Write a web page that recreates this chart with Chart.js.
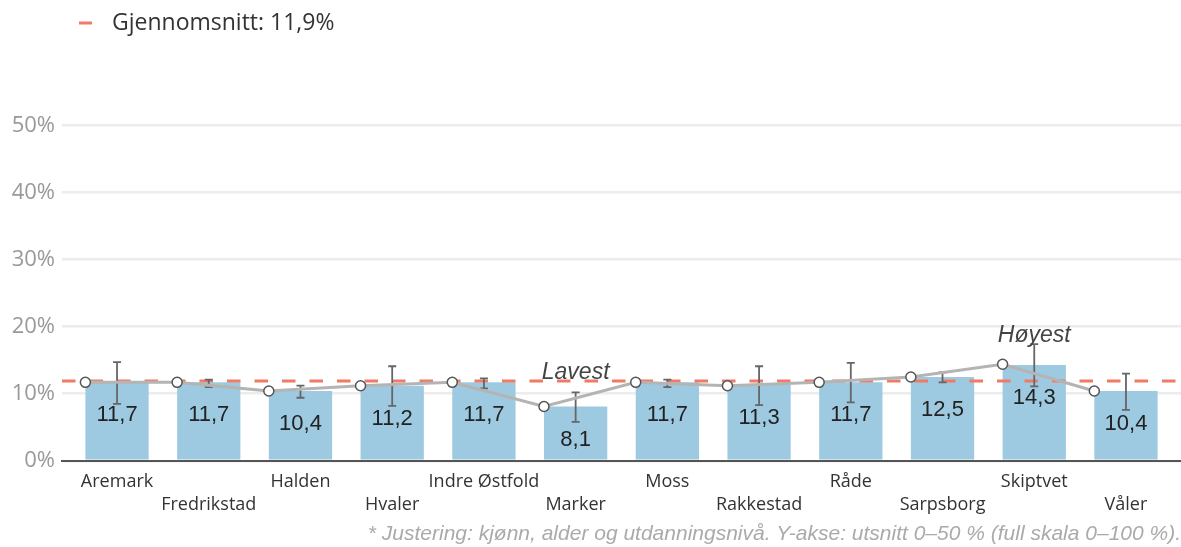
<!DOCTYPE html>
<html>
<head>
<meta charset="utf-8">
<script src="https://cdn.jsdelivr.net/npm/chart.js@4"></script>
<style>
  html, body { margin: 0; padding: 0; background: #fff; }
  #wrap { width: 1181px; height: 547px; }
</style>
</head>
<body>
<div id="wrap"><canvas id="chart"></canvas></div>
<script>
var labels = ["Aremark", "Fredrikstad", "Halden", "Hvaler", "Indre Østfold", "Marker",
  "Moss", "Rakkestad", "Råde", "Sarpsborg", "Skiptvet", "Våler"];
var adjusted = [11.7, 11.7, 10.4, 11.2, 11.7, 8.1, 11.7, 11.3, 11.7, 12.5, 14.3, 10.4];
var unadjusted = [11.7, 11.7, 10.4, 11.2, 11.7, 8.1, 11.7, 11.2, 11.7, 12.5, 14.4, 10.4];
var ciLow = [8.5, 11.0, 9.4, 8.2, 10.8, 5.8, 11.0, 8.3, 8.7, 11.7, 11.1, 7.6];
var ciHigh = [14.7, 12.1, 11.2, 14.1, 12.3, 10.2, 12.1, 14.1, 14.6, 13.2, 17.4, 13.0];
var average = 11.9;
var yTicks = [0, 10, 20, 30, 40, 50];
var legendText = "Gjennomsnitt: 11,9%";
var footnote = "* Justering: kjønn, alder og utdanningsnivå. Y-akse: utsnitt 0–50 % (full skala 0–100 %).";

var BAR_PCT = 0.69;
var AVG_COLOR = "#f07a64";
var fmt = function (v) { return v.toFixed(1).replace(".", ","); };

// avg line + error bars, drawn right after the bars
var overlayPlugin = {
  id: "overlay",
  afterDatasetDraw: function (chart, args) {
    if (args.index !== 0) return;
    var ctx = chart.ctx, x = chart.scales.x, y = chart.scales.y, area = chart.chartArea;
    ctx.save();
    ctx.strokeStyle = AVG_COLOR;
    ctx.lineWidth = 3;
    ctx.setLineDash([13.5, 14]);
    var ay = y.getPixelForValue(average);
    ctx.beginPath();
    ctx.moveTo(area.left, ay);
    ctx.lineTo(area.right, ay);
    ctx.stroke();
    ctx.setLineDash([]);

    ctx.strokeStyle = "#666";
    ctx.lineWidth = 1.8;
    for (var i = 0; i < labels.length; i++) {
      var px = x.getPixelForValue(i);
      var t = y.getPixelForValue(ciHigh[i]);
      var b = y.getPixelForValue(ciLow[i]);
      ctx.beginPath();
      ctx.moveTo(px, t); ctx.lineTo(px, b);
      ctx.moveTo(px - 4, t); ctx.lineTo(px + 4, t);
      ctx.moveTo(px - 4, b); ctx.lineTo(px + 4, b);
      ctx.stroke();
    }
    ctx.restore();
  },
  afterDatasetsDraw: function (chart) {
    var ctx = chart.ctx, x = chart.scales.x, y = chart.scales.y;
    ctx.save();
    // value labels inside bars
    ctx.fillStyle = "#222";
    ctx.font = "22px 'Liberation Sans', Arial, sans-serif";
    ctx.textAlign = "center";
    ctx.textBaseline = "middle";
    for (var i = 0; i < labels.length; i++) {
      ctx.fillText(fmt(adjusted[i]), x.getPixelForValue(i), y.getPixelForValue(adjusted[i]) + 33);
    }
    // lowest / highest notes
    var lo = adjusted.indexOf(Math.min.apply(null, adjusted));
    var hi = adjusted.indexOf(Math.max.apply(null, adjusted));
    ctx.fillStyle = "#444";
    ctx.font = "italic 23px 'Liberation Sans', Arial, sans-serif";
    ctx.textBaseline = "alphabetic";
    [[lo, "Lavest"], [hi, "Høyest"]].forEach(function (n) {
      var top = Math.max(ciHigh[n[0]], average);
      ctx.fillText(n[1], x.getPixelForValue(n[0]), y.getPixelForValue(top) - 2);
    });
    // legend
    ctx.strokeStyle = AVG_COLOR;
    ctx.lineWidth = 3;
    ctx.beginPath();
    ctx.moveTo(79, 23); ctx.lineTo(92, 23);
    ctx.stroke();
    ctx.fillStyle = "#333";
    ctx.font = "23px 'Open Sans', sans-serif";
    ctx.textAlign = "left";
    ctx.textBaseline = "middle";
    ctx.fillText(legendText, 112, 23);
    ctx.restore();
  }
};

var ctx = document.getElementById("chart").getContext("2d");

var myChart = new Chart(ctx, {
  data: {
    datasets: [
      {
        type: "bar",
        label: "Justert",
        data: adjusted.map(function (v, i) { return { x: i, y: v }; }),
        backgroundColor: "#9ecae1",
        barPercentage: BAR_PCT,
        categoryPercentage: 1,
        order: 2
      },
      {
        type: "line",
        label: "Ujustert",
        data: unadjusted.map(function (v, i) { return { x: i - BAR_PCT / 2, y: v }; }),
        borderColor: "#b4b4b4",
        borderWidth: 3,
        pointRadius: 5,
        pointBorderWidth: 1.5,
        pointBorderColor: "#555",
        pointBackgroundColor: "#fff",
        tension: 0,
        order: 1
      }
    ]
  },
  options: {
    responsive: true,
    maintainAspectRatio: false,
    animation: false,
    layout: { autoPadding: false, padding: { top: 125.5, right: 0, left: 0, bottom: 0 } },
    plugins: {
      legend: { display: false },
      tooltip: { enabled: false },
      title: {
        display: true,
        text: footnote,
        position: "bottom",
        align: "end",
        color: "#aaa",
        font: { family: "'Liberation Sans', Arial, sans-serif", size: 21, style: "italic", weight: "normal" },
        padding: { top: 0, bottom: 0 }
      }
    },
    scales: {
      x: {
        type: "linear",
        offset: false,
        min: -0.6,
        max: 11.6,
        grid: { display: false, drawTicks: false, offset: false },
        border: { display: true, color: "#555", width: 2 },
        afterBuildTicks: function (s) {
          s.ticks = labels.map(function (_, i) { return { value: i }; });
        },
        afterFit: function (s) {
          s.height = 61;
          s.paddingLeft = 0;
          s.paddingRight = 0;
        },
        ticks: {
          autoSkip: false,
          maxRotation: 0,
          padding: 10,
          color: "#333",
          font: { family: "'Open Sans', sans-serif", size: 18, lineHeight: 1.25 },
          callback: function (value) {
            var name = labels[value];
            return value % 2 === 0 ? [name] : ["", name];
          }
        }
      },
      y: {
        min: 0,
        max: 50,
        afterBuildTicks: function (s) {
          s.ticks = yTicks.map(function (v) { return { value: v }; });
        },
        afterFit: function (s) { s.width = 62; },
        grid: { color: "#ececec", lineWidth: 2.5, drawTicks: false },
        border: { display: false },
        ticks: {
          padding: 7,
          color: "#999",
          font: { family: "'Open Sans', sans-serif", size: 22 },
          callback: function (value) { return value + "%"; }
        }
      }
    }
  },
  plugins: [overlayPlugin]
});
</script>
</body>
</html>
